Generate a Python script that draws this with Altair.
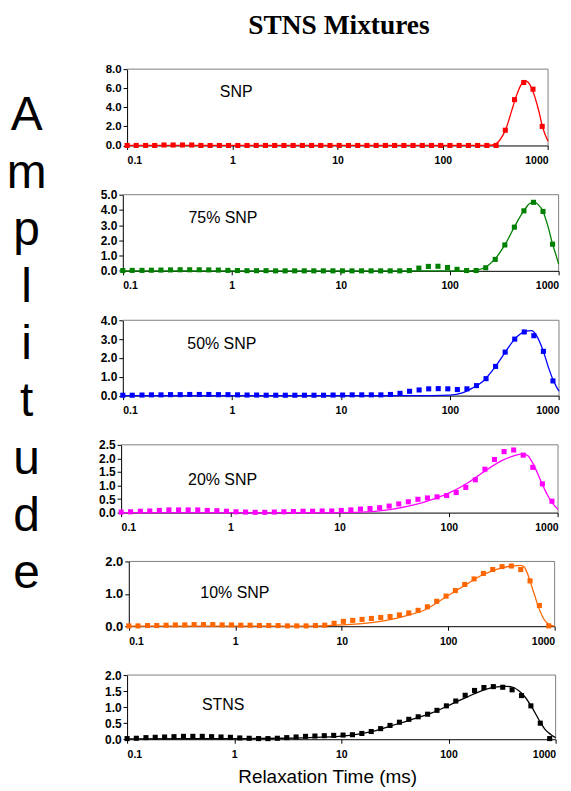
import altair as alt
import pandas as pd

# ---------------- data ----------------
x_pts = [0.1, 0.122, 0.150, 0.183, 0.224, 0.274, 0.336, 0.411, 0.503, 0.615,
         0.753, 0.921, 1.127, 1.379, 1.687, 2.064, 2.526, 3.091, 3.782, 4.628,
         5.663, 6.929, 8.479, 10.37, 12.69, 15.53, 19.01, 23.26, 28.46, 34.83,
         42.62, 52.15, 63.81, 78.08, 95.55, 116.9, 143.1, 175.1, 214.2, 262.1,
         320.8, 392.5, 480.3, 587.7, 719.2, 880.0]

snp_y = [0, 0, 0, 0, 0.05, 0.05, 0.05, 0.05, 0, 0,
         0, 0, 0, 0, 0, 0, 0, 0, 0, 0,
         0, 0, 0, 0, 0, 0, 0, 0, 0, 0,
         0, 0, 0, 0, 0, 0, 0, 0, 0, 0,
         0, 1.6, 4.8, 6.6, 5.9, 2.0]
snp_line_x = [0.1, 250, 300, 350, 400, 450, 500, 550, 600, 650, 700, 800, 900, 1000]
snp_line_y = [0, 0, 0.05, 0.6, 1.8, 3.6, 5.2, 6.3, 6.8, 6.6, 6.0, 4.0, 1.7, 0.45]

snp75_y = [0.02, 0.03, 0.03, 0.04, 0.05, 0.06, 0.07, 0.07, 0.07, 0.06,
           0.05, 0.03, 0.02, 0.01, 0.01, 0.01, 0.0, 0.0, 0.0, 0.0,
           0.0, 0.0, 0.0, 0.0, 0.0, 0.0, 0.0, 0.0, 0.0, 0.0,
           0.02, 0.18, 0.29, 0.30, 0.22, 0.10, 0.02, 0.02, 0.20, 0.75,
           1.70, 2.87, 3.94, 4.50, 3.90, 1.75]
snp75_line_x = [0.1, 150, 180, 220, 262, 321, 392, 480, 550, 600, 650, 719, 800, 880, 950, 1000]
snp75_line_y = [0, 0, 0.05, 0.3, 0.8, 1.7, 2.87, 3.95, 4.45, 4.5, 4.35, 3.9, 2.9, 1.75, 1.0, 0.45]

snp50_y = [0.02, 0.02, 0.03, 0.04, 0.04, 0.05, 0.05, 0.06, 0.06, 0.06,
           0.05, 0.05, 0.04, 0.03, 0.03, 0.02, 0.02, 0.02, 0.02, 0.02,
           0.02, 0.02, 0.03, 0.03, 0.04, 0.04, 0.04, 0.04, 0.06, 0.12,
           0.23, 0.30, 0.36, 0.37, 0.36, 0.32, 0.36, 0.53, 0.90, 1.55,
           2.31, 3.00, 3.38, 3.18, 2.35, 0.78]
snp50_line_x = [0.1, 50, 100, 130, 160, 200, 262, 321, 392, 480, 560, 620, 719, 800, 880, 950, 1000]
snp50_line_y = [0, 0, 0.03, 0.15, 0.4, 0.75, 1.55, 2.3, 3.0, 3.38, 3.45, 3.2, 2.35, 1.5, 0.85, 0.45, 0.23]

snp20_y = [0.02, 0.03, 0.05, 0.06, 0.08, 0.10, 0.10, 0.10, 0.10, 0.08,
           0.07, 0.05, 0.03, 0.02, 0.01, 0.01, 0.02, 0.03, 0.04, 0.05,
           0.05, 0.06, 0.06, 0.08, 0.10, 0.13, 0.15, 0.18, 0.24, 0.32,
           0.40, 0.49, 0.54, 0.58, 0.63, 0.74, 0.93, 1.21, 1.60, 1.96,
           2.25, 2.31, 2.12, 1.67, 1.06, 0.42]
snp20_line_x = [0.1, 10, 20, 30, 50, 70, 100, 150, 200, 300, 400, 480, 530, 600, 700, 800, 900, 1000]
snp20_line_y = [0, 0, 0.04, 0.12, 0.3, 0.48, 0.72, 1.1, 1.45, 1.9, 2.1, 2.17, 2.1, 1.75, 1.15, 0.65, 0.32, 0.12]

snp10_y = [0.01, 0.01, 0.02, 0.02, 0.03, 0.04, 0.04, 0.05, 0.05, 0.05,
           0.04, 0.04, 0.03, 0.03, 0.02, 0.02, 0.02, 0.01, 0.01, 0.01,
           0.02, 0.03, 0.09, 0.15, 0.18, 0.21, 0.24, 0.27, 0.30, 0.35,
           0.41, 0.49, 0.60, 0.77, 0.93, 1.10, 1.29, 1.46, 1.63, 1.75,
           1.84, 1.86, 1.75, 1.40, 0.64, 0.01]
snp10_line_x = [0.1, 5, 10, 20, 30, 40, 60, 100, 150, 200, 300, 400, 480, 520, 560, 600, 650, 700, 800, 900, 1000]
snp10_line_y = [0, 0, 0.04, 0.12, 0.22, 0.32, 0.5, 0.95, 1.3, 1.55, 1.78, 1.86, 1.88, 1.82, 1.6, 1.3, 0.95, 0.62, 0.2, 0.04, 0.0]

stns_y = [0.02, 0.03, 0.05, 0.06, 0.07, 0.08, 0.09, 0.09, 0.09, 0.08,
          0.07, 0.06, 0.04, 0.03, 0.02, 0.02, 0.03, 0.05, 0.07, 0.09,
          0.10, 0.11, 0.12, 0.13, 0.14, 0.18, 0.24, 0.33, 0.43, 0.53,
          0.62, 0.70, 0.78, 0.90, 1.04, 1.19, 1.37, 1.52, 1.61, 1.64,
          1.62, 1.54, 1.36, 1.04, 0.50, 0.02]
stns_line_x = [0.1, 1, 3, 5, 10, 15, 20, 30, 50, 70, 100, 150, 200, 250, 300, 350, 400, 450, 500, 600, 700, 800, 900, 1000]
stns_line_y = [0.01, 0.02, 0.03, 0.05, 0.1, 0.17, 0.25, 0.43, 0.66, 0.82, 1.05, 1.32, 1.5, 1.6, 1.64, 1.65, 1.62, 1.52, 1.38, 1.0, 0.6, 0.3, 0.15, 0.05]

labels = ["SNP", "75% SNP", "50% SNP", "20% SNP", "10% SNP", "STNS"]
colors = ["#ff0000", "#008000", "#0000ff", "#ff00ff", "#ff6600", "#000000"]
y_max = [8, 5, 4, 2.5, 2, 2]
y_ticks = [[0, 2, 4, 6, 8], [0, 1, 2, 3, 4, 5], [0, 1, 2, 3, 4],
           [0, 0.5, 1, 1.5, 2, 2.5], [0, 1, 2], [0, 0.5, 1, 1.5, 2]]
series_pts = [snp_y, snp75_y, snp50_y, snp20_y, snp10_y, stns_y]
series_lx = [snp_line_x, snp75_line_x, snp50_line_x, snp20_line_x, snp10_line_x, stns_line_x]
series_ly = [snp_line_y, snp75_line_y, snp50_line_y, snp20_line_y, snp10_line_y, stns_line_y]
label_pos = [(0.76, 5.6), (0.40, 3.5), (0.39, 2.76), (0.41, 1.22), (0.47, 1.03), (0.50, 1.08)]
x_ticks = [0.1, 1, 10, 100, 1000]

# ---------------- layout ----------------
# plot-area left / right edges inside the common panel box
starts = [6.0, 1.7, 1.7, 0.0, 7.7, 6.0]
ends = [428.4, 439.0, 439.4, 438.4, 435.0, 436.0]
W = 439.4
heights = [76.6, 76.4, 75.6, 68.0, 65.0, 64.4]
ylab_size = [11.5, 12, 12, 12, 13, 12]
FRAME = "#808080"
FONT = "Liberation Sans"

panels = []
for i in range(6):
    pts = pd.DataFrame({"x": x_pts, "y": series_pts[i]})
    ln = pd.DataFrame({"x": series_lx[i], "y": series_ly[i]})
    lab = pd.DataFrame({"x": [label_pos[i][0]], "y": [label_pos[i][1]], "t": [labels[i]]})
    top_edge = pd.DataFrame({"x": [0.1], "x2": [1000], "y": [y_max[i]]})
    right_edge = pd.DataFrame({"x": [1000], "y": [0], "y2": [y_max[i]]})

    last = i == 5
    xaxis = alt.Axis(values=x_ticks, format="~g", labelFontSize=10.5, labelFontWeight="bold",
                     labelFont=FONT, tickSize=4, labelPadding=6, domainColor="black",
                     tickColor="black", grid=False, labelColor="black",
                     title="Relaxation Time (ms)" if last else "",
                     titleFont=FONT, titleFontSize=19, titleFontWeight="normal",
                     titleColor="black", titleX=206.7, titleY=37.3, titleBaseline="middle")
    yaxis = alt.Axis(values=y_ticks[i], format=".1f", labelFontSize=ylab_size[i],
                     labelFontWeight="bold", labelFont=FONT, tickSize=4, labelPadding=2,
                     domainColor="black", tickColor="black", grid=False, labelColor="black",
                     title="", offset=-starts[i])
    xenc = alt.X("x:Q", scale=alt.Scale(type="log", domain=[0.1, 1000], nice=False,
                                        range=[starts[i], ends[i]]), axis=xaxis)
    yenc = alt.Y("y:Q", scale=alt.Scale(domain=[0, y_max[i]], nice=False, zero=True), axis=yaxis)

    f1 = alt.Chart(top_edge).mark_rule(color=FRAME, strokeWidth=1).encode(x=xenc, x2="x2:Q", y=yenc)
    f2 = alt.Chart(right_edge).mark_rule(color=FRAME, strokeWidth=1).encode(x=xenc, y=yenc, y2="y2:Q")
    line = alt.Chart(ln).mark_line(color=colors[i], strokeWidth=1.3, interpolate="monotone").encode(x=xenc, y=yenc)
    sq = alt.Chart(pts).mark_square(color=colors[i], size=26, opacity=1).encode(x=xenc, y=yenc)
    txt = alt.Chart(lab).mark_text(align="left", baseline="middle", fontSize=16, font=FONT,
                                   color="black").encode(x=xenc, y=yenc, text="t:N")
    layers = [f1, f2, line, sq, txt]
    if i == 0:
        amp = pd.DataFrame({"t": ["A\nm\np\nl\ni\nt\nu\nd\ne"]})
        big = alt.Chart(amp).mark_text(lineBreak="\n", lineHeight=57.4, fontSize=48, font=FONT,
                                       align="center", baseline="alphabetic", color="black").encode(
            x=alt.value(-94.8), y=alt.value(61.5), text="t:N")
        layers.append(big)
    panels.append(alt.layer(*layers).properties(width=W, height=heights[i]))

chart = alt.vconcat(*panels, spacing=49, bounds="flush").properties(
    title=alt.TitleParams("STNS Mixtures", font="Liberation Serif", fontSize=27.5,
                          fontWeight="bold", anchor="middle", baseline="alphabetic",
                          offset=1.5, dx=55, color="black"),
    padding={"left": -2.5, "top": 2, "right": 0, "bottom": 0},
).configure_view(stroke="transparent")

chart.save("out.html", embed_options={"renderer": "svg", "actions": False})
